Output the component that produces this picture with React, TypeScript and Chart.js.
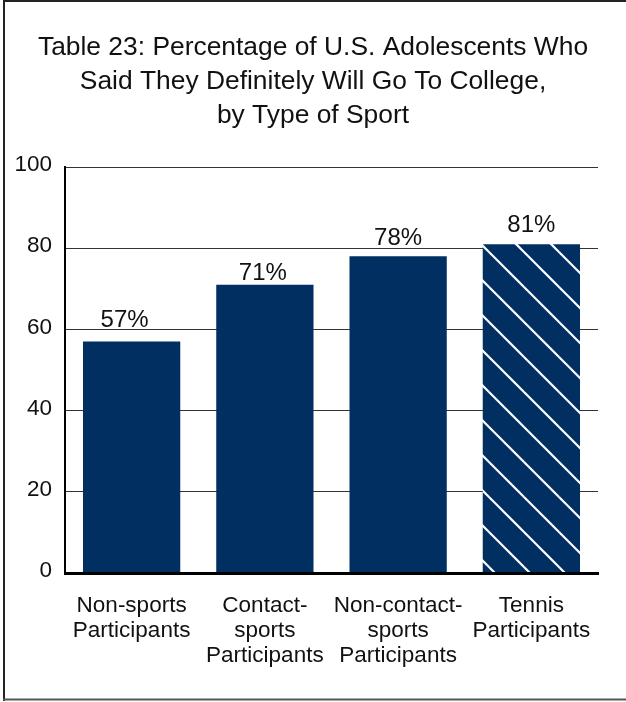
import React, { useEffect, useRef } from "react";
import { Chart, registerables } from "chart.js";

Chart.register(...registerables);

// ---- data ----
const titleLines = [
  "Table 23: Percentage of U.S. Adolescents Who",
  "Said They Definitely Will Go To College,",
  "by Type of Sport",
];
const categories = [
  ["Non-sports", "Participants"],
  ["Contact-", "sports", "Participants"],
  ["Non-contact-", "sports", "Participants"],
  ["Tennis", "Participants"],
];
const values = [57, 71, 78, 81];
const hatched = [false, false, false, true];
const yMin = 0;
const yMax = 100;
const yStep = 20;

// ---- styles ----
const FONT = "'Liberation Sans', Arial, Helvetica, sans-serif";
const NAVY = "#012f62";
const TEXT = "#111111";
const labelGap = [15, 5, 11, 12];
const labelDx = [-7, -2, 0, 0];

function makeHatch(ctx: CanvasRenderingContext2D) {
  const size = 35;
  const c = document.createElement("canvas");
  c.width = size;
  c.height = size;
  const g = c.getContext("2d")!;
  g.fillStyle = NAVY;
  g.fillRect(0, 0, size, size);
  g.strokeStyle = "#ffffff";
  g.lineWidth = 2.2;
  for (const k of [-1, 0, 1]) {
    g.beginPath();
    g.moveTo(-5, -5 + 8 + k * size);
    g.lineTo(size + 5, size + 5 + 8 + k * size);
    g.stroke();
  }
  return ctx.createPattern(c, "repeat") as CanvasPattern;
}

const framePlugin = {
  id: "frame",
  afterDraw(chart: any) {
    const ctx = chart.ctx as CanvasRenderingContext2D;
    const w = chart.width;
    const h = chart.height;
    ctx.save();
    ctx.strokeStyle = "#222222";
    ctx.lineWidth = 2;
    ctx.beginPath();
    ctx.moveTo(4, 0);
    ctx.lineTo(4, h - 1);
    ctx.moveTo(3, 1);
    ctx.lineTo(w, 1);
    ctx.stroke();
    ctx.strokeStyle = "#555555";
    ctx.beginPath();
    ctx.moveTo(3, h - 2.5);
    ctx.lineTo(w, h - 2.5);
    ctx.stroke();
    ctx.restore();
  },
};

const valueLabelPlugin = {
  id: "valueLabels",
  afterDatasetsDraw(chart: any) {
    const ctx = chart.ctx as CanvasRenderingContext2D;
    const meta = chart.getDatasetMeta(0);
    ctx.save();
    ctx.font = `24px ${FONT}`;
    ctx.fillStyle = TEXT;
    ctx.textAlign = "center";
    ctx.textBaseline = "alphabetic";
    meta.data.forEach((bar: any, i: number) => {
      ctx.fillText(values[i] + "%", bar.x + labelDx[i], bar.y - labelGap[i]);
    });
    ctx.restore();
  },
};

export default function App() {
  const ref = useRef<HTMLCanvasElement | null>(null);

  useEffect(() => {
    const canvas = ref.current!;
    const ctx = canvas.getContext("2d")!;
    const hatch = makeHatch(ctx);
    const chart = new Chart(canvas, {
      type: "bar",
      data: {
        labels: categories,
        datasets: [
          {
            data: values,
            backgroundColor: hatched.map((h) => (h ? hatch : NAVY)),
            borderWidth: 0,
            categoryPercentage: 1,
            barPercentage: 0.73,
            yAxisID: "y",
          },
        ],
      },
      options: {
        responsive: false,
        maintainAspectRatio: false,
        animation: false,
        layout: { padding: 0 },
        plugins: {
          legend: { display: false },
          tooltip: { enabled: false },
          title: {
            display: true,
            text: titleLines,
            color: TEXT,
            font: { family: FONT, size: 26.4, weight: "normal", lineHeight: 34 / 26.4 },
            padding: { top: 31, bottom: 34 },
          },
        },
        scales: {
          x: {
            grid: { display: true, drawOnChartArea: false, drawTicks: false },
            border: { display: true, color: "#000000", width: 3, z: 1 },
            ticks: {
              color: TEXT,
              font: { family: FONT, size: 22.5, lineHeight: 25 / 22.5 },
              padding: 20,
              maxRotation: 0,
              autoSkip: false,
            },
            afterFit: (s: any) => {
              s.height = 129;
            },
          },
          y: {
            position: "left",
            min: yMin,
            max: yMax,
            grid: { color: "#333333", lineWidth: 1, drawTicks: false },
            border: { display: true, color: "#000000", width: 2 },
            ticks: {
              stepSize: yStep,
              color: TEXT,
              font: { family: FONT, size: 22.5 },
              padding: 13,
              labelOffset: -2,
            },
            afterFit: (s: any) => {
              s.width = 65;
            },
          },
          spacer: {
            type: "linear",
            position: "right",
            display: true,
            grid: { display: false, drawTicks: false },
            border: { display: false },
            ticks: { display: false },
            afterFit: (s: any) => {
              s.width = 28;
            },
          },
        },
      },
      plugins: [valueLabelPlugin, framePlugin],
    });
    return () => chart.destroy();
  }, []);

  return (
    <div
      style={{
        position: "fixed",
        left: 0,
        top: 0,
        width: 626,
        height: 702,
        background: "#ffffff",
      }}
    >
      <canvas ref={ref} width={626} height={702} style={{ display: "block" }} />
    </div>
  );
}
